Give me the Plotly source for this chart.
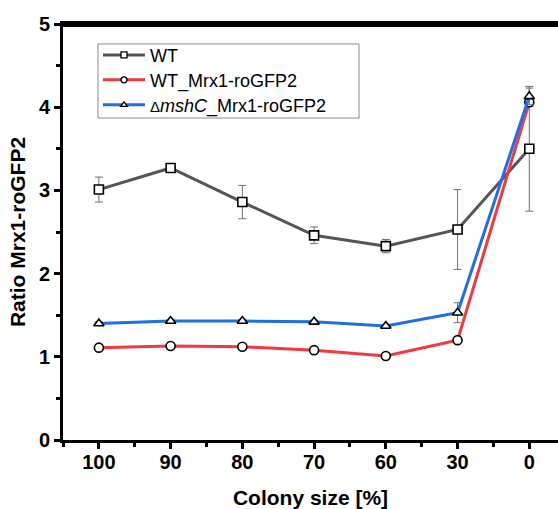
import plotly.graph_objects as go

categories = ["100", "90", "80", "70", "60", "30", "0"]

wt = [3.01, 3.27, 2.86, 2.46, 2.33, 2.53, 3.50]
wt_err = [0.15, 0.03, 0.20, 0.10, 0.08, 0.48, 0.75]

wt_mrx1 = [1.11, 1.13, 1.12, 1.08, 1.01, 1.20, 4.06]
wt_mrx1_err = [0.02, 0.02, 0.02, 0.02, 0.02, 0.03, 0.05]

msh_mrx1 = [1.40, 1.43, 1.43, 1.42, 1.37, 1.53, 4.13]
msh_mrx1_err = [0.02, 0.02, 0.02, 0.02, 0.02, 0.12, 0.10]

names = ["WT", "WT_Mrx1-roGFP2",
         "<span style='font-size:15px'>Δ</span><i>mshC</i>_Mrx1-roGFP2"]
colors = ["#555555", "#f03a40", "#1f6fe3"]
symbols = ["square", "circle", "triangle-up"]
legend_ids = ["legend", "legend2", "legend3"]

xpos = list(range(len(categories)))
font_family = "Liberation Sans, Arial, sans-serif"

fig = go.Figure()
for ys, errs, name, col, sym in zip([wt, wt_mrx1, msh_mrx1],
                                    [wt_err, wt_mrx1_err, msh_mrx1_err],
                                    names, colors, symbols):
    fig.add_trace(go.Scatter(
        x=xpos, y=ys, name=name, mode="lines+markers", showlegend=False,
        line=dict(color=col, width=3),
        marker=dict(symbol=sym, size=9, color="white",
                    line=dict(color="black", width=1.6)),
        error_y=dict(type="data", array=errs, visible=True,
                     color="#707070", thickness=1, width=4),
    ))
# legend entries (smaller symbols, as in the reference legend)
for name, col, sym, lg in zip(names, colors, symbols, legend_ids):
    fig.add_trace(go.Scatter(
        x=[None], y=[None], name=name, mode="lines+markers", showlegend=True,
        legend=lg,
        line=dict(color=col, width=3),
        marker=dict(symbol=sym, size=6, color="white",
                    line=dict(color="black", width=1.3)),
    ))

leg_common = dict(x=0.0707, xanchor="left", yanchor="middle",
                  bgcolor="rgba(0,0,0,0)", borderwidth=0,
                  font=dict(size=18, family=font_family), itemwidth=42)
row_y = [0.925, 0.865, 0.805]

fig.update_layout(
    width=558, height=509,
    margin=dict(l=63, r=0, t=24, b=69, autoexpand=False),
    plot_bgcolor="white", paper_bgcolor="white",
    font=dict(family=font_family, color="black"),
    showlegend=True,
    legend=dict(y=row_y[0], **leg_common),
    legend2=dict(y=row_y[1], **leg_common),
    legend3=dict(y=row_y[2], **leg_common),
    shapes=[
        dict(type="rect", xref="paper", yref="paper",
             x0=0.0707, x1=0.598, y0=0.774, y1=0.952,
             line=dict(color="#8a8a8a", width=1), fillcolor="rgba(0,0,0,0)",
             layer="above"),
        # top frame line of the plot box
        dict(type="rect", xref="paper", yref="paper",
             x0=0, x1=1.0, y0=0.9925, y1=1.0,
             line=dict(width=0), fillcolor="black", layer="above"),
    ],
)

fig.update_xaxes(
    range=[-0.5, 6.4], tickmode="array", tickvals=xpos, ticktext=categories,
    automargin=False, mirror=True,
    showline=True, linecolor="black", linewidth=3, showgrid=False, zeroline=False,
    ticks="outside", ticklen=6, tickwidth=3, tickcolor="black",
    ticklabelstandoff=-4,
    tickfont=dict(size=20, weight="bold", family=font_family),
    minor=dict(tick0=0.5, dtick=1, ticks="outside", ticklen=4, tickwidth=3,
               tickcolor="black", showgrid=False),
    title=dict(text="Colony size [%]", font=dict(size=21, weight="bold",
                                                 family=font_family), standoff=19),
)
fig.update_yaxes(
    range=[0, 5], tickmode="linear", tick0=0, dtick=1,
    automargin=False,
    showline=True, linecolor="black", linewidth=3, showgrid=False, zeroline=False,
    ticks="outside", ticklen=6, tickwidth=3, tickcolor="black",
    tickfont=dict(size=20, weight="bold", family=font_family),
    minor=dict(dtick=0.5, ticks="outside", ticklen=4, tickwidth=3,
               tickcolor="black", showgrid=False),
    title=dict(text="Ratio Mrx1-roGFP2", font=dict(size=21, weight="bold",
                                                   family=font_family), standoff=8),
)

fig.write_html("out.html", config={"displayModeBar": False},
               post_script="document.body.style.margin='0';")
